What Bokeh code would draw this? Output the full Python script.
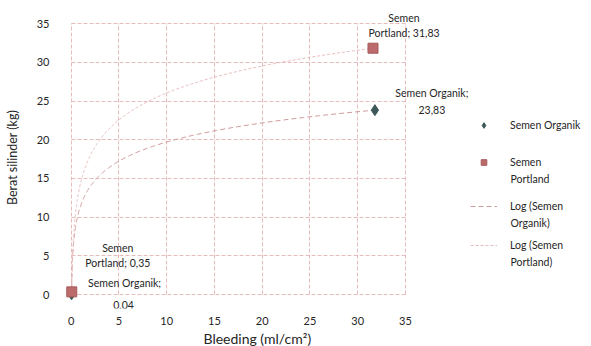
import numpy as np
from bokeh.plotting import figure
from bokeh.models import Legend, LegendItem, Label, FixedTicker, Title
from bokeh.embed import file_html
from bokeh.resources import INLINE

# data
organik_x = [0.04, 31.8]
organik_y = [0.04, 23.83]
portland_x = [0.06, 31.6]
portland_y = [0.35, 31.83]
ticks = [0, 5, 10, 15, 20, 25, 30, 35]

FONT = "Lato"
TXT = "#262626"
C_ORG = "#3d5858"
C_POR = "#bb6b6b"
C_LOG_O = "#cf9a9a"
C_LOG_P = "#e8bcbc"

p = figure(width=591, height=346, output_backend="svg", toolbar_location=None,
           x_range=(-0.91, 54.48), y_range=(-1.80, 37.22),
           min_border_left=62, min_border_right=0, min_border_top=6, min_border_bottom=36)
p.outline_line_color = None
p.background_fill_color = "white"

for ax in (p.xaxis[0], p.yaxis[0]):
    ax.ticker = FixedTicker(ticks=ticks)
    ax.axis_line_color = None
    ax.major_tick_line_color = None
    ax.minor_tick_line_color = None
    ax.major_label_text_font = FONT
    ax.major_label_text_font_size = "11px"
    ax.major_label_text_color = TXT
p.xaxis.bounds = (0, 35)
p.yaxis.bounds = (0, 35)
p.xaxis.major_label_standoff = 2
p.yaxis.major_label_standoff = 7
p.yaxis.axis_label = "Berat silinder (kg)"
p.yaxis.axis_label_text_font = FONT
p.yaxis.axis_label_text_font_size = "12.5px"
p.yaxis.axis_label_text_font_style = "normal"
p.yaxis.axis_label_text_color = TXT
p.yaxis.axis_label_standoff = 14

p.add_layout(Title(text="Bleeding (ml/cm²)", align="left", offset=141,
                   text_font=FONT, text_font_size="14px", text_font_style="normal",
                   text_color=TXT, standoff=0), "below")

for g in (p.xgrid[0], p.ygrid[0]):
    g.grid_line_color = "#e6bcbc"
    g.grid_line_dash = "4 2"
    g.grid_line_width = 1
    g.bounds = (0, 35)
    g.cross_bounds = (0, 35)

# log trendlines (least squares on ln x, as Excel does)
def log_fit(x, y):
    a, b = np.polyfit(np.log(x), y, 1)
    xs = np.geomspace(min(x), max(x), 300)
    return xs, a * np.log(xs) + b

ox, oy = log_fit(organik_x, organik_y)
px, py = log_fit(portland_x, portland_y)

r_log_o = p.line(ox, oy, line_color=C_LOG_O, line_width=1, line_dash="5 3")
r_log_p = p.line(px, py, line_color=C_LOG_P, line_width=1, line_dash="3 2")

r_o = p.scatter(organik_x, organik_y, marker="diamond", size=11,
                fill_color=C_ORG, line_color=C_ORG)
r_p = p.scatter(portland_x, portland_y, marker="square", size=10,
                fill_color=C_POR, line_color="#a85a5a")

# data labels
def lbl(x, y, text, xo, yo):
    p.add_layout(Label(x=x, y=y, text=text, x_offset=xo, y_offset=yo,
                       text_font=FONT, text_font_size="10.5px", text_color=TXT,
                       text_align="center", text_baseline="middle"))

def num(v):
    return f"{v:.2f}".replace(".", ",")

lbl(portland_x[1], portland_y[1], "Semen", 31, 30)
lbl(portland_x[1], portland_y[1], "Portland; " + num(portland_y[1]), 31, 15)
lbl(organik_x[1], organik_y[1], "Semen Organik;", 57, 17)
lbl(organik_x[1], organik_y[1], num(organik_y[1]), 57, 0)
lbl(portland_x[0], portland_y[0], "Semen", 46, 44)
lbl(portland_x[0], portland_y[0], "Portland; " + num(portland_y[0]), 46, 29)
lbl(organik_x[0], organik_y[0], "Semen Organik;", 53, 11)
lbl(organik_x[0], organik_y[0], num(organik_y[0]), 52, -11)

# legend: one legend per entry so each sits where the reference has it
FRAME_B = 310  # frame bottom (px from top)
FRAME_L = 62
entries = [
    ("Semen Organik", None, r_o, 125),
    ("Semen", "Portland", r_p, 162),
    ("Log (Semen", "Organik)", r_log_o, 206),
    ("Log (Semen", "Portland)", r_log_p, 245),
]
for first, second, rend, row in entries:
    lg = Legend(items=[LegendItem(label=first, renderers=[rend])],
                location=(470 - FRAME_L, FRAME_B - row - 9))
    lg.label_text_font = FONT
    lg.label_text_font_size = "10.5px"
    lg.label_text_color = TXT
    lg.border_line_color = None
    lg.background_fill_alpha = 0
    lg.padding = 0
    lg.margin = 0
    lg.glyph_width = 27
    lg.glyph_height = 14
    lg.label_height = 14
    lg.label_standoff = 13
    p.add_layout(lg, "center")
    if second:
        p.add_layout(Label(x=510 - FRAME_L, y=FRAME_B - row - 18, x_units="screen",
                           y_units="screen", text=second, text_font=FONT,
                           text_font_size="10.5px", text_color=TXT,
                           text_align="left", text_baseline="middle"))

open("out.html", "w").write(file_html(p, INLINE))
